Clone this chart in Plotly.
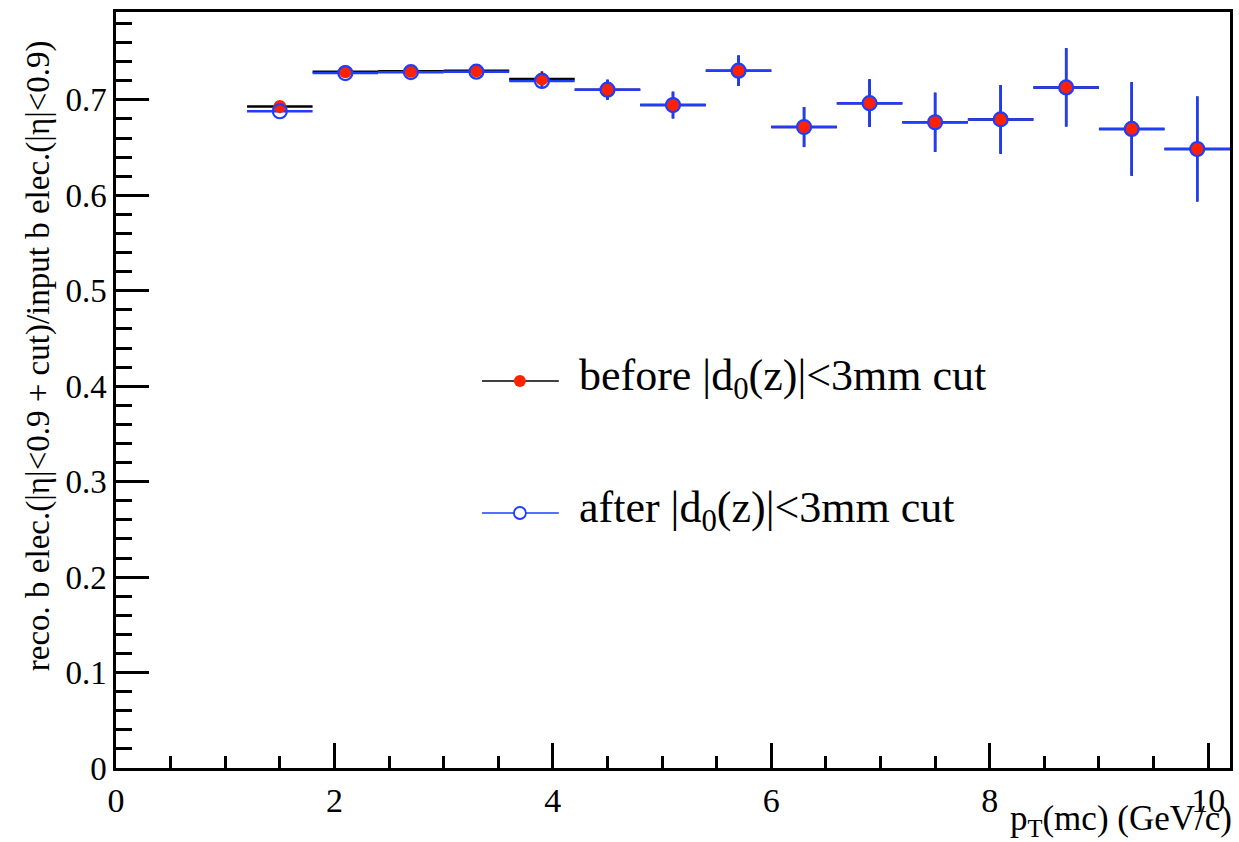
import plotly.graph_objects as go

pt_centers = [1.5, 2.1, 2.7, 3.3, 3.9, 4.5, 5.1, 5.7, 6.3, 6.9, 7.5, 8.1, 8.7, 9.3, 9.9]
bin_halfwidth = [0.3] * 15
eff_before = [0.693, 0.7295, 0.7298, 0.7305, 0.7218, 0.7106, 0.6945, 0.7305, 0.6715, 0.6965,
              0.6765, 0.6795, 0.713, 0.6695, 0.6485]
err_before = [0.002, 0.003, 0.003, 0.004, 0.008, 0.0105, 0.014, 0.016, 0.021, 0.025,
              0.031, 0.036, 0.041, 0.049, 0.055]
eff_after = [0.688, 0.7280, 0.7290, 0.7295, 0.7198, 0.7106, 0.6945, 0.7305, 0.6715, 0.6965,
             0.6765, 0.6795, 0.713, 0.6695, 0.6485]
err_after = [0.002, 0.003, 0.003, 0.004, 0.008, 0.0105, 0.014, 0.016, 0.021, 0.025,
             0.031, 0.036, 0.041, 0.049, 0.055]

x_tickvals = [0, 2, 4, 6, 8, 10]
x_ticktext = ["0", "2", "4", "6", "8", "10"]
y_tickvals = [0, 0.1, 0.2, 0.3, 0.4, 0.5, 0.6, 0.7]
y_ticktext = ["0", "0.1", "0.2", "0.3", "0.4", "0.5", "0.6", "0.7"]

RED = "#ff2200"
BLUE = "#1f3cff"
FONT = "Liberation Serif"

fig = go.Figure()
# error bars (black, then blue)
fig.add_trace(go.Scatter(
    x=pt_centers, y=eff_before, mode="markers",
    marker=dict(size=1, color="rgba(0,0,0,0)"),
    error_x=dict(type="data", array=bin_halfwidth, width=0, thickness=2.5, color="black"),
    error_y=dict(type="data", array=err_before, width=0, thickness=2.5, color="black"),
    showlegend=False, hoverinfo="skip"))
fig.add_trace(go.Scatter(
    x=pt_centers, y=eff_after, mode="markers",
    marker=dict(size=1, color="rgba(0,0,0,0)"),
    error_x=dict(type="data", array=bin_halfwidth, width=0, thickness=2.5, color=BLUE),
    error_y=dict(type="data", array=err_after, width=0, thickness=2.5, color=BLUE),
    showlegend=False, hoverinfo="skip"))
# markers
fig.add_trace(go.Scatter(
    x=pt_centers, y=eff_before, mode="markers",
    marker=dict(symbol="circle", size=13, color=RED, line=dict(width=0)),
    name="before", showlegend=False))
fig.add_trace(go.Scatter(
    x=pt_centers, y=eff_after, mode="markers",
    marker=dict(symbol="circle-open", size=14, color=BLUE, line=dict(width=2.2)),
    name="after", showlegend=False))

W, H = 1239, 842
L, R, T, B = 116, 6, 12, 74
pw, ph = W - L - R, H - T - B

def px(x):
    return (x - L) / pw

def py(y):
    return 1 - (y - T) / ph

shapes = []
# legend symbols
for yy, col in [(381, "black"), (513, BLUE)]:
    shapes.append(dict(type="line", xref="paper", yref="paper",
                       x0=px(483), x1=px(560), y0=py(yy), y1=py(yy),
                       line=dict(color=col, width=1.6)))
r = 6
shapes.append(dict(type="circle", xref="paper", yref="paper",
                   x0=px(521 - r), x1=px(521 + r), y0=py(381 + r), y1=py(381 - r),
                   fillcolor=RED, line=dict(width=0)))
shapes.append(dict(type="circle", xref="paper", yref="paper",
                   x0=px(521 - r), x1=px(521 + r), y0=py(513 + r), y1=py(513 - r),
                   fillcolor="white", line=dict(color=BLUE, width=1.8)))

annotations = [
    dict(text="before |d<sub>0</sub>(z)|<3mm cut", xref="paper", yref="paper",
         x=px(578), y=py(378), xanchor="left", yanchor="middle", showarrow=False,
         font=dict(family=FONT, size=44, color="black")),
    dict(text="after |d<sub>0</sub>(z)|<3mm cut", xref="paper", yref="paper",
         x=px(578), y=py(510), xanchor="left", yanchor="middle", showarrow=False,
         font=dict(family=FONT, size=44, color="black")),
    dict(text="reco. b elec.(|η|<0.9 + cut)/input b elec.(|η|<0.9)", xref="paper", yref="paper",
         x=px(38), y=py(356), xanchor="center", yanchor="middle", textangle=-90,
         showarrow=False, font=dict(family=FONT, size=33, color="black")),
    dict(text="p<sub>T</sub>(mc) (GeV/c)", xref="paper", yref="paper",
         x=px(1237), y=py(820), xanchor="right", yanchor="middle", showarrow=False,
         font=dict(family=FONT, size=35, color="black")),
]

fig.update_layout(
    width=W, height=H,
    margin=dict(l=L, r=R, t=T, b=B, pad=0),
    paper_bgcolor="white", plot_bgcolor="white",
    font=dict(family=FONT, size=28, color="black"),
    shapes=shapes, annotations=annotations,
    xaxis=dict(range=[0, 10.2], showgrid=False, zeroline=False,
               showline=True, linecolor="black", linewidth=2.5, mirror=True,
               ticks="inside", tickwidth=2.5, ticklen=25, tickcolor="black",
               tickmode="array", tickvals=x_tickvals, ticktext=x_ticktext,
               tickfont=dict(family=FONT, size=34),
               minor=dict(ticks="inside", tick0=0, dtick=0.5, ticklen=12, tickwidth=2.5,
                          tickcolor="black", showgrid=False)),
    yaxis=dict(range=[0, 0.792], showgrid=False, zeroline=False,
               showline=True, linecolor="black", linewidth=2.5, mirror=True,
               ticks="inside", tickwidth=2.5, ticklen=33, tickcolor="black",
               tickmode="array", tickvals=y_tickvals, ticktext=y_ticktext,
               tickfont=dict(family=FONT, size=33),
               minor=dict(ticks="inside", tick0=0, dtick=0.02, ticklen=16, tickwidth=2.5,
                          tickcolor="black", showgrid=False)),
)

fig.write_html("out.html")
